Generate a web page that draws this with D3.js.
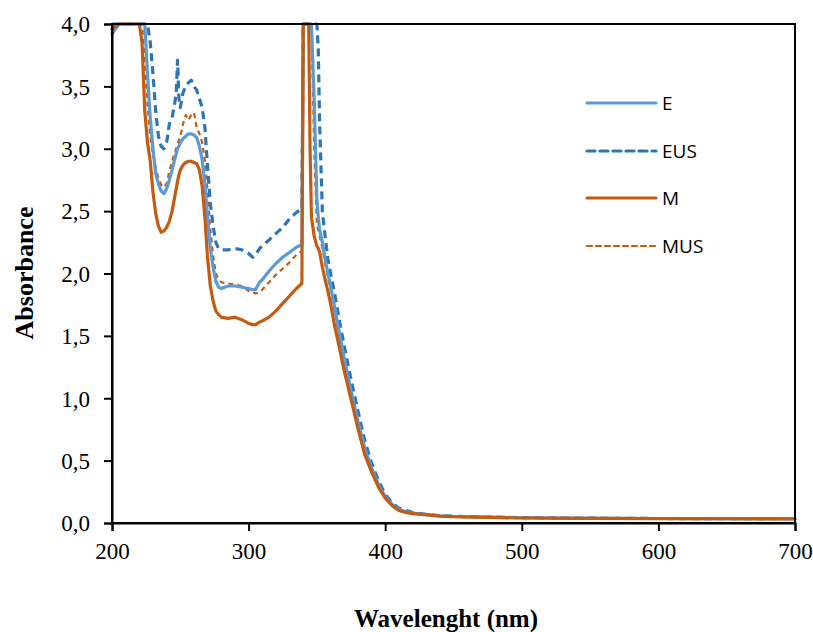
<!DOCTYPE html>
<html>
<head>
<meta charset="utf-8">
<script src="https://cdn.jsdelivr.net/npm/d3@7"></script>
<style>
  html, body { margin: 0; padding: 0; background: #fff; }
  svg { display: block; }
</style>
</head>
<body>
<svg id="chart" width="813" height="632"></svg>
<script>
// Wavelength grid (nm) shared by all four spectra
const wavelengths = [200,205,210,215,218,220,222,224,226,228,230,232,234,236,238,240,242,244,246,247,248,249,250,252,254,256,258,260,262,264,266,268,270,272,274,276,278,280,285,290,295,300,303,305,308,310,315,320,325,330,335,339,340,342,344,345,346,348,350,351,352,354,356,358,360,363,366,370,375,380,385,390,395,400,405,410,415,420,430,440,450,475,500,550,600,650,700];

// Absorbance values (readings above 4,0 are off-scale)
const seriesE = [3.92,4.2,4.2,4.2,4.2,4.2,4.2,4.0,3.6,3.25,3.0,2.8,2.72,2.66,2.64,2.68,2.75,2.83,2.92,2.96,3.0,3.02,3.05,3.08,3.1,3.12,3.12,3.11,3.09,3.02,2.91,2.72,2.45,2.2,2.05,1.94,1.89,1.88,1.9,1.9,1.89,1.88,1.87,1.87,1.93,1.95,2.02,2.08,2.13,2.17,2.21,2.23,4.2,4.2,4.2,4.2,4.2,3.4,2.6,2.45,2.35,2.25,2.12,2.0,1.9,1.73,1.55,1.32,1.06,0.82,0.6,0.44,0.31,0.21,0.15,0.11,0.09,0.08,0.068,0.058,0.052,0.047,0.042,0.038,0.036,0.035,0.034];
const seriesEUS = [4.2,4.2,4.2,4.2,4.2,4.2,4.2,4.2,4.1,3.85,3.6,3.3,3.1,3.02,3.0,3.05,3.2,3.25,3.37,3.45,3.71,3.4,3.33,3.45,3.5,3.53,3.55,3.5,3.47,3.4,3.33,3.17,2.85,2.56,2.38,2.25,2.2,2.19,2.19,2.2,2.19,2.16,2.13,2.15,2.2,2.22,2.27,2.32,2.37,2.44,2.49,2.52,4.2,4.2,4.2,4.2,4.2,4.2,4.2,3.8,3.2,2.5,2.3,2.12,2.0,1.84,1.65,1.42,1.15,0.9,0.66,0.48,0.34,0.23,0.16,0.12,0.1,0.085,0.07,0.06,0.054,0.048,0.043,0.039,0.036,0.035,0.034];
const seriesM = [3.96,4.2,4.2,4.2,4.2,4.2,3.85,3.3,3.05,2.9,2.65,2.48,2.38,2.33,2.34,2.37,2.42,2.5,2.62,2.68,2.74,2.79,2.83,2.87,2.89,2.9,2.9,2.89,2.88,2.83,2.7,2.45,2.12,1.9,1.78,1.7,1.67,1.65,1.64,1.65,1.63,1.6,1.59,1.59,1.61,1.62,1.65,1.7,1.76,1.82,1.88,1.92,4.2,4.2,4.2,3.0,2.45,2.3,2.22,2.2,2.17,2.05,1.95,1.86,1.76,1.58,1.43,1.22,0.99,0.76,0.55,0.41,0.29,0.2,0.14,0.1,0.085,0.075,0.065,0.055,0.05,0.045,0.04,0.037,0.035,0.034,0.033];
const seriesMUS = [4.2,4.2,4.2,4.2,4.2,4.2,4.1,3.7,3.35,3.1,2.95,2.85,2.76,2.71,2.69,2.72,2.82,2.9,2.97,3.0,3.04,3.07,3.1,3.2,3.27,3.23,3.27,3.29,3.17,3.12,3.05,2.9,2.65,2.35,2.15,2.0,1.95,1.93,1.92,1.91,1.9,1.86,1.85,1.84,1.85,1.87,1.93,1.99,2.04,2.09,2.15,2.18,4.2,4.2,4.2,4.2,4.2,3.0,2.4,2.35,2.3,2.2,2.08,1.97,1.87,1.7,1.52,1.3,1.05,0.81,0.59,0.44,0.31,0.21,0.15,0.11,0.09,0.08,0.068,0.058,0.052,0.046,0.041,0.037,0.035,0.034,0.033];

const seriesNames = ["E", "EUS", "M", "MUS"];
const xTicks = [200, 300, 400, 500, 600, 700];
const yTicks = [0, 0.5, 1, 1.5, 2, 2.5, 3, 3.5, 4];

const styles = {
  E:   { color: "#5B9BD5", width: 3.2, dash: null },
  EUS: { color: "#2E75B6", width: 3.2, dash: "8,5" },
  M:   { color: "#C55A11", width: 3.2, dash: null },
  MUS: { color: "#C55A11", width: 2.2, dash: "5,4" }
};
const valuesByName = { E: seriesE, EUS: seriesEUS, M: seriesM, MUS: seriesMUS };

const margin = { left: 112, right: 18, top: 24, bottom: 109 };
const W = 813, H = 632;
const svg = d3.select("#chart");

const x = d3.scaleLinear().domain([200, 700]).range([margin.left, W - margin.right]);
const y = d3.scaleLinear().domain([0, 4]).range([H - margin.bottom, margin.top]).clamp(true);

const comma = d3.formatLocale({ decimal: ",", thousands: ".", grouping: [3], currency: ["", ""] }).format(".1f");

// Spectra
const line = d3.line().x(d => x(d[0])).y(d => y(d[1]));
const drawOrder = ["MUS", "EUS", "E", "M"];
drawOrder.forEach(name => {
  const s = styles[name];
  const pts = wavelengths.map((w, i) => [w, valuesByName[name][i]]);
  svg.append("path")
    .datum(pts)
    .attr("d", line)
    .attr("fill", "none")
    .attr("stroke", s.color)
    .attr("stroke-width", s.width)
    .attr("stroke-linejoin", "round")
    .attr("stroke-linecap", s.dash ? "butt" : "round")
    .attr("stroke-dasharray", s.dash);
});

// Plot frame
svg.append("rect")
  .attr("x", x(200)).attr("y", y(4))
  .attr("width", x(700) - x(200)).attr("height", y(0) - y(4))
  .attr("fill", "none").attr("stroke", "#000").attr("stroke-width", 2);

// Axes
const xAxis = svg.append("g")
  .attr("transform", `translate(0,${y(0)})`)
  .call(d3.axisBottom(x).tickValues(xTicks).tickSize(8).tickPadding(12).tickFormat(d3.format("d")));
const yAxis = svg.append("g")
  .attr("transform", `translate(${x(200)},0)`)
  .call(d3.axisLeft(y).tickValues(yTicks).tickSize(8).tickPadding(14).tickFormat(comma));

[xAxis, yAxis].forEach(g => {
  g.select(".domain").attr("stroke", "#000").attr("stroke-width", 2);
  g.selectAll(".tick line").attr("stroke", "#000").attr("stroke-width", 2);
  g.selectAll(".tick text")
    .attr("fill", "#000")
    .style("font-family", "'Liberation Serif', 'Times New Roman', serif")
    .style("font-size", "23px");
});
yAxis.selectAll(".tick text").attr("dy", "0.34em");

// Axis titles
svg.append("text")
  .attr("x", 446).attr("y", 627)
  .attr("text-anchor", "middle")
  .style("font-family", "'Liberation Serif', 'Times New Roman', serif")
  .style("font-weight", "bold")
  .style("font-size", "25px")
  .text("Wavelenght (nm)");

svg.append("text")
  .attr("transform", "translate(33,273) rotate(-90)")
  .attr("text-anchor", "middle")
  .style("font-family", "'Liberation Serif', 'Times New Roman', serif")
  .style("font-weight", "bold")
  .style("font-size", "26px")
  .text("Absorbance");

// Legend
const legendRows = [103, 151, 198, 246];
const legend = svg.append("g");
seriesNames.forEach((name, i) => {
  const s = styles[name];
  const ly = legendRows[i];
  legend.append("line")
    .attr("x1", 587).attr("x2", 656)
    .attr("y1", ly).attr("y2", ly)
    .attr("stroke", s.color)
    .attr("stroke-width", s.width)
    .attr("stroke-linecap", "round")
    .attr("stroke-dasharray", s.dash);
  legend.append("text")
    .attr("x", 662).attr("y", ly)
    .attr("dy", "0.36em")
    .style("font-family", "'Open Sans', 'Liberation Sans', sans-serif")
    .style("font-size", "19px")
    .attr("fill", "#000")
    .text(name);
});
</script>
</body>
</html>
